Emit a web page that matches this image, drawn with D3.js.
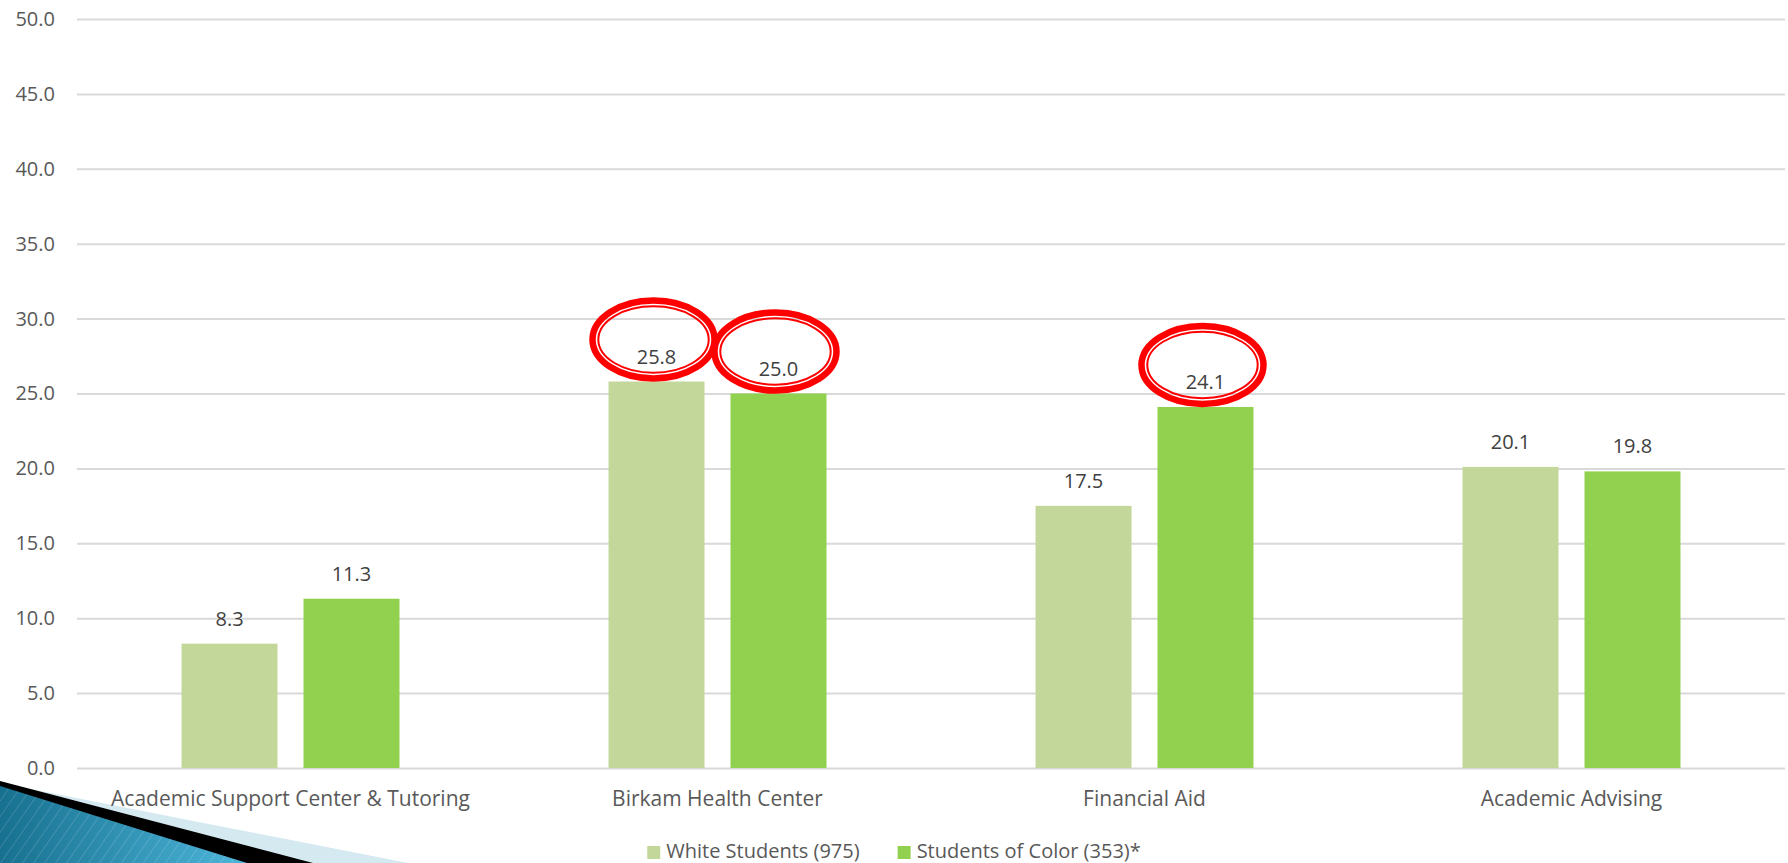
<!DOCTYPE html>
<html>
<head>
<meta charset="utf-8">
<script src="https://cdn.jsdelivr.net/npm/d3@7"></script>
<style>
  html, body { margin: 0; padding: 0; background: #fff; }
  svg { display: block; }
  text { font-family: "Open Sans", "Noto Sans", sans-serif; }
</style>
</head>
<body>
<svg id="chart" width="1788" height="863"></svg>
<script>
// ---- data ----
const categories = ["Academic Support Center & Tutoring", "Birkam Health Center", "Financial Aid", "Academic Advising"];
const seriesNames = ["White Students (975)", "Students of Color (353)*"];
const whiteValues = [8.3, 25.8, 17.5, 20.1];
const colorValues = [11.3, 25.0, 24.1, 19.8];
const yTicks = [0, 5, 10, 15, 20, 25, 30, 35, 40, 45, 50];
// highlighted (circled) labels: [category index, series index]
const highlights = [[1, 0], [1, 1], [2, 1]];

const seriesColors = ["#C4D79B", "#92D050"];
const W = 1788, H = 863;
const plot = { left: 77, right: 1785, top: 19, bottom: 768 };

const svg = d3.select("#chart");

// ---- decoration (bottom-left theme wedge) ----
const defs = svg.append("defs");
const grad = defs.append("linearGradient").attr("id", "blueGrad")
  .attr("x1", "0").attr("y1", "0").attr("x2", "1").attr("y2", "0");
grad.append("stop").attr("offset", "0").attr("stop-color", "#17708F");
grad.append("stop").attr("offset", "1").attr("stop-color", "#4DB6DA");
const pat = defs.append("pattern").attr("id", "stripes")
  .attr("width", 9).attr("height", 9).attr("patternUnits", "userSpaceOnUse")
  .attr("patternTransform", "rotate(35)");
pat.append("line").attr("x1", 0).attr("y1", 0).attr("x2", 0).attr("y2", 9)
  .attr("stroke", "#ffffff").attr("stroke-opacity", 0.18).attr("stroke-width", 1.5);

const deco = svg.append("g");
deco.append("polygon").attr("points", "0,783 408,863 0,863").attr("fill", "#D5E9F1");
deco.append("polygon").attr("points", "0,781 313,863 0,863").attr("fill", "#000000");
deco.append("polygon").attr("points", "0,786 247,863 0,863").attr("fill", "url(#blueGrad)");
deco.append("polygon").attr("points", "0,786 247,863 0,863").attr("fill", "url(#stripes)");

// ---- scales ----
const x0 = d3.scaleBand().domain(categories).range([plot.left, plot.right]).paddingInner(0).paddingOuter(0);
const x1 = d3.scaleBand().domain(seriesNames).range([0, x0.bandwidth()]).paddingInner(0.213).paddingOuter(0.857);
const y = d3.scaleLinear().domain([0, 50]).range([plot.bottom, plot.top]);

// ---- gridlines ----
const grid = svg.append("g")
  .attr("transform", `translate(${plot.left},0)`)
  .call(d3.axisLeft(y).tickValues(yTicks).tickSize(-(plot.right - plot.left)).tickFormat(""));
grid.select(".domain").remove();
grid.selectAll(".tick line").attr("stroke", "#D9D9D9").attr("stroke-width", 2);

// ---- y axis labels ----
const yAxis = svg.append("g")
  .attr("transform", `translate(55,0)`)
  .call(d3.axisLeft(y).tickValues(yTicks).tickSize(0).tickPadding(0).tickFormat(d3.format(".1f")));
yAxis.select(".domain").remove();
yAxis.selectAll("text").attr("fill", "#595959").attr("font-size", 20)
  .attr("font-family", "'Open Sans', sans-serif");

// ---- bars ----
const rows = categories.map((c, i) => ({ cat: c, vals: [whiteValues[i], colorValues[i]] }));
const groups = svg.append("g").selectAll("g").data(rows).join("g")
  .attr("transform", d => `translate(${x0(d.cat)},0)`);
const cells = groups.selectAll("g").data((d, ci) => d.vals.map((v, si) => ({ v, si, ci, s: seriesNames[si] })))
  .join("g");
cells.append("rect")
  .attr("x", d => x1(d.s)).attr("width", x1.bandwidth())
  .attr("y", d => y(d.v)).attr("height", d => y(0) - y(d.v))
  .attr("fill", d => seriesColors[d.si]);
cells.append("text")
  .attr("x", d => x1(d.s) + x1.bandwidth() / 2)
  .attr("y", d => y(d.v) - 18)
  .attr("text-anchor", "middle").attr("font-size", 20).attr("fill", "#404040")
  .text(d => d3.format(".1f")(d.v));

// ---- x axis labels ----
const xAxis = svg.append("g").attr("transform", `translate(0,${plot.bottom})`)
  .call(d3.axisBottom(x0).tickSize(0).tickPadding(0));
xAxis.select(".domain").remove();
xAxis.selectAll("text").attr("fill", "#595959").attr("font-size", 21)
  .attr("dy", null).attr("y", 38).attr("font-family", "'Open Sans', sans-serif");

// ---- highlight ellipses (thick outer ring + thin inner ring) ----
const hl = svg.append("g");
highlights.forEach(([ci, si]) => {
  const v = si === 0 ? whiteValues[ci] : colorValues[ci];
  const cx = x0(categories[ci]) + x1(seriesNames[si]) + x1.bandwidth() / 2 - 3;
  const cy = y(v) - 42;
  hl.append("ellipse").attr("cx", cx).attr("cy", cy).attr("rx", 61).attr("ry", 39)
    .attr("fill", "none").attr("stroke", "#FF0000").attr("stroke-width", 6.5);
  hl.append("ellipse").attr("cx", cx).attr("cy", cy).attr("rx", 55.2).attr("ry", 33.2)
    .attr("fill", "none").attr("stroke", "#FF0000").attr("stroke-width", 2);
});

// ---- legend ----
const legend = svg.append("g");
const items = legend.selectAll("g").data(seriesNames).join("g");
items.append("rect").attr("width", 13).attr("height", 13).attr("y", 846)
  .attr("fill", (d, i) => seriesColors[i]);
items.append("text").attr("y", 858).attr("font-size", 20).attr("fill", "#595959").text(d => d);
let xpos = 0;
const widths = [];
items.each(function () { widths.push(d3.select(this).select("text").node().getComputedTextLength()); });
const total = widths.reduce((a, w) => a + 19 + w, 0) + 38 * (widths.length - 1);
xpos = W / 2 - total / 2;
items.each(function (d, i) {
  const g = d3.select(this);
  g.select("rect").attr("x", xpos);
  g.select("text").attr("x", xpos + 19);
  xpos += 19 + widths[i] + 38;
});
</script>
</body>
</html>
